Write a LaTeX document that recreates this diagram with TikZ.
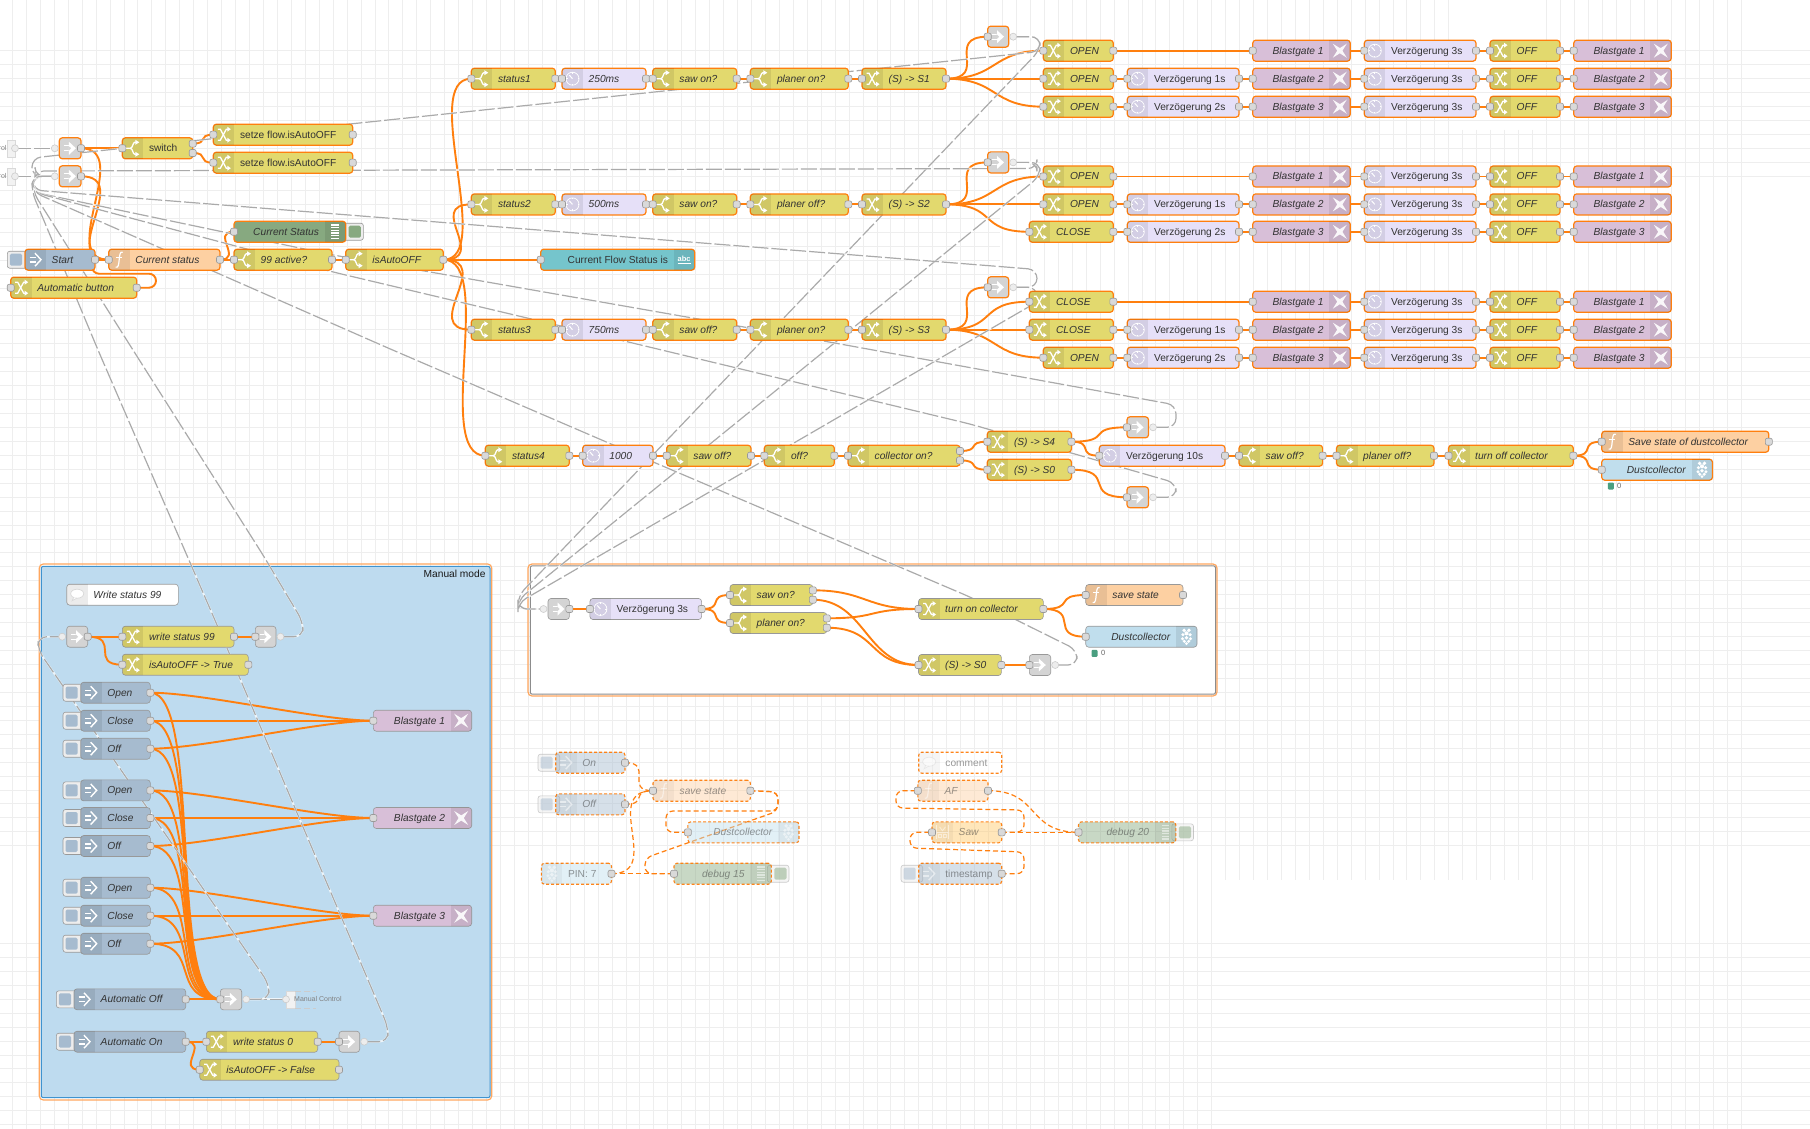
\documentclass[tikz,border=0pt]{standalone}
\usepackage{fontspec}
\setmainfont{Liberation Sans}
\usetikzlibrary{calc}
\pgfdeclarelayer{bg}
\pgfdeclarelayer{wires}
\pgfsetlayers{bg,wires,main}

\definecolor{wo}{HTML}{FF7F0E}
\definecolor{lnkgrey}{HTML}{AAAAAA}
\definecolor{gridc}{HTML}{EEEEEE}
\definecolor{txt}{HTML}{333333}
\definecolor{fch}{HTML}{E2D96E}
\definecolor{fdl}{HTML}{E6E0F8}
\definecolor{fin}{HTML}{A6BBCF}
\definecolor{ffn}{HTML}{FDD0A2}
\definecolor{fdb}{HTML}{87A980}
\definecolor{fmq}{HTML}{D8BFD8}
\definecolor{fui}{HTML}{75C5CC}
\definecolor{frp}{HTML}{C0DEED}
\definecolor{ftp}{HTML}{FFC868}
\definecolor{flk}{HTML}{D4D4D4}
\definecolor{grpblue}{HTML}{3F93CF}
\definecolor{grpfill}{HTML}{BEDBEF}
\definecolor{grpsel}{HTML}{FFA75E}
\definecolor{dotg}{HTML}{4A9E80}

\tikzset{
  nrbox/.style={rounded corners=3pt,minimum height=21pt,inner sep=0pt,text height=9pt,text depth=2.1pt,
    text=txt,font=\fontsize{10.2}{12}\selectfont},
  stsel/.style={draw=wo,line width=1.2pt},
  stpln/.style={draw=black!40,line width=.6pt},
  stdis/.style={draw=wo,line width=1.1pt,dash pattern=on 3pt off 2pt,fill opacity=.45,draw opacity=.95,text opacity=.5},
  prt/.style={draw=black!40,fill=black!15,line width=.6pt,rounded corners=2pt,minimum size=7pt,inner sep=0pt},
  vprt/.style={draw=black!20,fill=black!7,line width=.6pt,circle,minimum size=7pt,inner sep=0pt},
  gridln/.style={draw=gridc,line width=.9pt},
  wire/.style={draw=wo,line width=1.9pt,
    to path={let \p1=(\tikztostart),\p2=(\tikztotarget),
      \n1={0.75*min(veclen(\x2-\x1,\y2-\y1),70)} in
      .. controls (\x1+\n1,\y1) and (\x2-\n1,\y2) .. (\tikztotarget)}},
  dwire/.style={wire,line width=1.2pt,dash pattern=on 5pt off 3pt},
  hookd/.style={draw=wo,line width=1.2pt,dash pattern=on 5pt off 3pt,rounded corners=7pt},
  hookw/.style={draw=wo,line width=1.9pt,rounded corners=7pt},
  linkw/.style={draw=lnkgrey,line width=1.2pt,dash pattern=on 16pt off 3pt,rounded corners=9pt,
    preaction={draw=white,solid,line width=1.9pt,draw opacity=.75}},
  stubtxt/.style={font=\fontsize{7}{8}\selectfont,text=black!50,inner sep=0pt},
  cnt/.style={font=\fontsize{7.5}{8}\selectfont,text=black!60,inner sep=0pt,anchor=west},
  icn/.style={draw=white,line width=1.3pt},
}

% Node kinds: fill colour, icon side, icon, trigger button
\newcommand{\setkind}[5]{\expandafter\def\csname k#1\endcsname{\def\nfill{#2}\def\nside{#3}\def\nicon{#4}\def\nbtn{#5}}}
\newcommand{\icch}{%
  \draw[icn] (-6,-5.5) -- (-3.5,-5.5) -- (2.5,5.5) -- (4,5.5);
  \draw[icn] (-6,5.5) -- (-3.5,5.5) -- (2.5,-5.5) -- (4,-5.5);
  \fill[white] (3.5,-8) -- (7,-5.5) -- (3.5,-3) -- cycle (3.5,8) -- (7,5.5) -- (3.5,3) -- cycle;}
\newcommand{\icsw}{%
  \draw[icn] (-7,0) -- (-2.5,0) .. controls (0,0) and (0,-6) .. (2,-6) -- (3,-6);
  \draw[icn] (-2.5,0) .. controls (0,0) and (0,6) .. (2,6) -- (3,6);
  \fill[white] (2.5,-8.5) -- (6.5,-6) -- (2.5,-3.5) -- cycle (2.5,8.5) -- (6.5,6) -- (2.5,3.5) -- cycle;}
\newcommand{\icdl}{%
  \draw[draw=white,line width=.7pt] (0,0) circle (6.5);
  \draw[draw=white,line width=1pt] (0,0) -- (-3.2,-3.6);
  \draw[draw=white,line width=1pt] (0,-6.5) -- (0,-5) (6.5,0) -- (5,0) (0,6.5) -- (0,5) (-6.5,0) -- (-5,0);}
\newcommand{\icin}{%
  \draw[icn,line width=1.5pt] (-6,-2.2) -- (0,-2.2) (-6,2.2) -- (0,2.2);
  \draw[icn,line width=1.4pt] (-.5,-6.5) -- (5.5,0) -- (-.5,6.5);}
\newcommand{\icfn}{%
  \draw[draw=white,line width=1.2pt] (3.5,-7.5) .. controls (.5,-8.5) and (.5,-4) .. (0,0) .. controls (-.5,4) and (-.5,8.5) .. (-3.5,7.5);
  \draw[draw=white,line width=1pt] (-3,-2.5) -- (3,-2.5);}
\newcommand{\icdb}{%
  \foreach \v in {-6.6,-4,-1.3,1.3,4,6.6}{\draw[draw=white,line width=1.3pt] (-3.8,\v) -- (3.8,\v);}}
\newcommand{\icmq}{%
  \fill[white,opacity=.9] (-7,-7) -- (0,-2.6) -- (7,-7) -- (2.6,0) -- (7,7) -- (0,2.6) -- (-7,7) -- (-2.6,0) -- cycle;}
\newcommand{\icrp}{%
  \fill[white] (-2.4,-6.4) circle (1.9) (2.4,-6.4) circle (1.9) (0,-3.4) circle (2) (-3.6,-2) circle (1.7) (3.6,-2) circle (1.7)
    (0,1) circle (1.9) (-4,2) circle (1.6) (4,2) circle (1.6) (-2.2,4.6) circle (1.7) (2.2,4.6) circle (1.7) (0,7) circle (1.5);}
\newcommand{\iccm}{%
  \filldraw[fill=white,draw=black!15,line width=.7pt] (0,-1) ellipse (6.5 and 4.5);
  \filldraw[fill=white,draw=black!15,line width=.7pt] (-3.5,2.6) -- (-5,6) -- (-.5,3.4);}
\newcommand{\icui}{%
  \node[font=\bfseries\fontsize{7.5}{8}\selectfont,text=white,inner sep=0pt] (\nname-ic) at (0,-.6) {abc};
  \draw[draw=white,line width=.9pt] (-6.6,4.2) -- (6.6,4.2);}
\newcommand{\ictp}{%
  \draw[draw=white,line width=.8pt] (-6,-7) -- (-6,7) (6,-7) -- (6,7) (-6,.5) -- (6,.5);
  \draw[draw=white,line width=.8pt] (-3,-5.5) -- (0,-1.5) -- (3,-5.5);
  \draw[draw=white,line width=.7pt] (-4,2.5) rectangle (-.7,5.5) (.7,2.5) rectangle (4,5.5);}
\newcommand{\iclk}{%
  \draw[draw=white,line width=1pt] (-6,-2.6) -- (-1,-2.6) (-6,2.6) -- (-1,2.6);
  \fill[white] (-1.2,-6.5) -- (5.8,0) -- (-1.2,6.5) -- cycle;
  \fill[flk] (-1.6,-2.4) -- (1,0) -- (-1.6,2.4) -- cycle;}
\setkind{ch}{fch}{L}{\icch}{N}
\setkind{sw}{fch}{L}{\icsw}{N}
\setkind{dl}{fdl}{L}{\icdl}{N}
\setkind{in}{fin}{L}{\icin}{L}
\setkind{fn}{ffn}{L}{\icfn}{N}
\setkind{db}{fdb}{R}{\icdb}{R}
\setkind{mq}{fmq}{R}{\icmq}{N}
\setkind{rp}{frp}{R}{\icrp}{N}
\setkind{rl}{frp}{L}{\icrp}{N}
\setkind{cm}{white}{L}{\iccm}{N}
\setkind{ui}{fui}{R}{\icui}{N}
\setkind{tp}{ftp}{L}{\ictp}{N}
\setkind{lk}{flk}{C}{\iclk}{N}

\expandafter\def\csname opsel\endcsname{1}
\expandafter\def\csname oppln\endcsname{1}
\expandafter\def\csname opdis\endcsname{.5}

% Port sets; arguments are node name, left edge, right edge, centre line
\newcommand{\portsn}[4]{}
\newcommand{\portsi}[4]{\node[prt] (#1-in) at (#2,#4) {};}
\newcommand{\portso}[4]{\node[prt] (#1-out) at (#3,#4) {};}
\newcommand{\portsio}[4]{\portsi{#1}{#2}{#3}{#4}\portso{#1}{#2}{#3}{#4}}
\newcommand{\portsioo}[4]{\portsi{#1}{#2}{#3}{#4}%
  \node[prt] (#1-oa) at (#3,#4-4.7) {};\node[prt] (#1-ob) at (#3,#4+4.7) {};}
\newcommand{\portslin}[4]{\node[vprt] (#1-in) at (#2-4.5,#4) {};\portso{#1}{#2}{#3}{#4}}
\newcommand{\portslout}[4]{\portsi{#1}{#2}{#3}{#4}\node[vprt] (#1-out) at (#3+4.5,#4) {};}

% A flow node: kind, state, name, left, right, centre line, ports, label
\newcommand{\nd}[8]{%
  \csname k#1\endcsname
  \def\nname{#3}\edef\nop{\csname op#2\endcsname}%
  \pgfmathsetmacro\nw{#5-#4}\pgfmathsetmacro\nc{(#4+#5)/2}%
  \def\bl{L}\ifx\nbtn\bl
    \filldraw[rounded corners=2.5pt,draw=black!40,fill=black!7,line width=.6pt,opacity=\nop] (#4-17.7,#6-8.5) rectangle (#4+4,#6+8.5);
    \fill[\nfill,rounded corners=1.5pt,opacity=\nop] (#4-15.2,#6-6) rectangle (#4-3,#6+6);
  \fi
  \def\br{R}\ifx\nbtn\br
    \filldraw[rounded corners=2.5pt,draw=black!40,fill=black!7,line width=.6pt,opacity=\nop] (#5-4,#6-8.5) rectangle (#5+17.7,#6+8.5);
    \fill[\nfill,rounded corners=1.5pt,opacity=\nop] (#5+3,#6-6) rectangle (#5+15.2,#6+6);
  \fi
  \def\sl{L}\def\sr{R}%
  \node[nrbox,st#2,fill=\nfill,minimum width=\nw pt] (#3) at (\nc,#6)
    {\ifx\nside\sl\makebox[\nw pt][l]{\hspace*{26.7pt}\itshape #8}\else
     \ifx\nside\sr\makebox[\nw pt][r]{\itshape #8\hspace*{26.7pt}}\fi\fi};
  \begin{scope}
    \clip[rounded corners=3pt] (#4,#6-10.5) rectangle (#5,#6+10.5);
    \ifx\nside\sl\fill[black,opacity=.08*\nop] (#4,#6-11) rectangle (#4+21,#6+11);\fi
    \ifx\nside\sr\fill[black,opacity=.08*\nop] (#5-21,#6-11) rectangle (#5,#6+11);\fi
  \end{scope}
  \begin{scope}[opacity=\nop]
    \ifx\nside\sl\pgfmathsetmacro\ic{#4+10.5}\else\ifx\nside\sr\pgfmathsetmacro\ic{#5-10.5}\else\pgfmathsetmacro\ic{\nc}\fi\fi
    \begin{scope}[shift={(\ic,#6)}]\nicon\end{scope}
  \end{scope}
  \csname ports#7\endcsname{#3}{#4}{#5}{#6}%
}

% Condition row: name prefix, centre line, status label, delay label, two tests
\newcommand{\staterow}[6]{%
  \nd{sw}{sel}{#1s}{471.3}{555.3}{#2}{io}{#3}
  \nd{dl}{sel}{#1t}{562}{646}{#2}{io}{#4}
  \nd{sw}{sel}{#1u}{652.7}{736.7}{#2}{io}{#5}
  \nd{sw}{sel}{#1v}{750.3}{848.3}{#2}{io}{#6}
}
% Blastgate, delay, OFF, Blastgate along one row
\newcommand{\gatechain}[3]{%
  \nd{mq}{sel}{#1b}{1252.7}{1350.3}{#3}{i}{Blastgate #2}
  \nd{dl}{sel}{#1d}{1364.3}{1476}{#3}{io}{\upshape Verzögerung 3s}
  \nd{ch}{sel}{#1f}{1490}{1560}{#3}{io}{OFF}
  \nd{mq}{sel}{#1g}{1573.7}{1671.3}{#3}{i}{Blastgate #2}
}
% Manual Open / Close / Off triple feeding one gate
\newcommand{\manualset}[4]{%
  \nd{in}{pln}{#1o}{80.7}{150.3}{#2}{o}{Open}
  \nd{in}{pln}{#1c}{80.7}{150.3}{#3}{o}{Close}
  \nd{in}{pln}{#1f}{80.7}{150.3}{#4}{o}{Off}
}
\newcommand{\gp}[1]{\pgfmathsetmacro\yy{50.9+13.945*#1}\draw[gridln] (0,\yy) -- (1810,\yy);}

\begin{document}
\begin{tikzpicture}[x=1pt,y=-1pt]
\useasboundingbox (0,0) rectangle (1810,1129);
\begin{pgfonlayer}{bg}
  \fill[white] (0,0) rectangle (1810,1129);
  % Editor grid
  \foreach \i in {0,...,9,21,22,...,57,64,65,...,77}{\gp{\i}}
  \foreach \i in {10,...,20}{\pgfmathsetmacro\yy{50.9+13.945*\i}\draw[gridln] (0,\yy) -- (1000,\yy);}
  \foreach \k in {0,...,86,110,111,...,124}{\pgfmathsetmacro\xx{12.4+13.945*\k}\draw[gridln] (\xx,0) -- (\xx,1129);}
  \foreach \k in {87,...,103}{\pgfmathsetmacro\xx{12.4+13.945*\k}\draw[gridln] (\xx,0) -- (\xx,880);}
  \foreach \k in {104,...,109}{\pgfmathsetmacro\xx{12.4+13.945*\k}\draw[gridln] (\xx,130) -- (\xx,880);}
  % Groups
  \draw[draw=grpsel,line width=1.2pt,rounded corners=4pt] (39.3,564) rectangle (491.7,1100);
  \filldraw[draw=grpblue,fill=grpfill,line width=1pt,rounded corners=2pt] (41.3,566.3) rectangle (490,1097.7);
  \draw[draw=grpsel,line width=1.2pt,rounded corners=4pt] (528,564) rectangle (1217,696);
  \filldraw[draw=black!45,fill=white,line width=1pt,rounded corners=2pt] (530.3,565.8) rectangle (1215.5,694.2);
\end{pgfonlayer}

\node[font=\fontsize{10.2}{12}\selectfont,text=black!90,anchor=east,inner sep=0pt] (grouptitle) at (485.7,573.7) {Manual mode};

% Entry and dispatch
\filldraw[draw=black!15,fill=black!5,line width=.6pt] (7,140) rectangle (15,157);
\filldraw[draw=black!15,fill=black!5,line width=.6pt] (7,168) rectangle (15,185);
\node[stubtxt,anchor=east] (stubla) at (6.7,148.3) {rol};
\node[stubtxt,anchor=east] (stublb) at (6.7,176.3) {rol};
\node[vprt] (stubA-out) at (15,148.3) {};
\node[vprt] (stubB-out) at (15,176.3) {};
\nd{lk}{sel}{la}{59.3}{81}{148.3}{lin}{}
\nd{lk}{sel}{lb}{59.3}{81}{176.3}{lin}{}
\nd{sw}{sel}{swi}{122.3}{192.7}{148.3}{ioo}{\upshape switch}
\nd{ch}{sel}{fa}{213.3}{352.7}{134.7}{io}{\upshape setze flow.isAutoOFF}
\nd{ch}{sel}{fb}{213.3}{352.7}{162.7}{io}{\upshape setze flow.isAutoOFF}
\nd{db}{sel}{curst}{234}{345.7}{231.7}{i}{Current Status}
\nd{in}{sel}{start}{25}{95}{259.7}{o}{Start}
\nd{fn}{sel}{cufn}{108.7}{220}{259.7}{io}{Current status}
\nd{sw}{sel}{act}{234}{332}{259.7}{io}{99 active?}
\nd{sw}{sel}{iao}{345.7}{443.3}{259.7}{io}{isAutoOFF}
\nd{ch}{sel}{autob}{10.7}{136.7}{287.7}{io}{Automatic button}
\nd{ui}{sel}{flowst}{540.7}{694.7}{259.7}{i}{\upshape Current Flow Status is}

% State chains
\staterow{a}{78.7}{status1}{250ms}{saw on?}{planer on?}
\nd{ch}{sel}{aw}{862}{946}{78.7}{io}{(S) -> S1}
\staterow{b}{204.4}{status2}{500ms}{saw on?}{planer off?}
\nd{ch}{sel}{bw}{862}{946}{204.4}{io}{(S) -> S2}
\staterow{c}{329.7}{status3}{750ms}{saw off?}{planer on?}
\nd{ch}{sel}{cw}{862}{946}{329.7}{io}{(S) -> S3}

\nd{sw}{sel}{ds}{485.3}{569.3}{455.7}{io}{status4}
\nd{dl}{sel}{dt}{582.7}{653}{455.7}{io}{1000}
\nd{sw}{sel}{du}{666.7}{751}{455.7}{io}{saw off?}
\nd{sw}{sel}{dv}{764.3}{834.3}{455.7}{io}{off?}
\nd{sw}{sel}{dw}{848}{960}{455.7}{ioo}{collector on?}

% State 1
\nd{lk}{sel}{al}{987.7}{1008.7}{36.7}{lout}{}
\nd{ch}{sel}{a1}{1043.3}{1113.3}{50.7}{io}{OPEN}
\nd{ch}{sel}{a2}{1043.3}{1113.3}{78.7}{io}{OPEN}
\nd{ch}{sel}{a3}{1043.3}{1113.3}{106.7}{io}{OPEN}
\nd{dl}{sel}{a2y}{1127.3}{1239}{78.7}{io}{\upshape Verzögerung 1s}
\nd{dl}{sel}{a3y}{1127.3}{1239}{106.7}{io}{\upshape Verzögerung 2s}
\gatechain{a1}{1}{50.7}
\gatechain{a2}{2}{78.7}
\gatechain{a3}{3}{106.7}

% State 2
\nd{lk}{sel}{bl}{987.7}{1008.7}{162.4}{lout}{}
\nd{ch}{sel}{b1}{1043.3}{1113.3}{176.5}{io}{OPEN}
\nd{ch}{sel}{b2}{1043.3}{1113.3}{204.4}{io}{OPEN}
\nd{ch}{sel}{b3}{1029.3}{1113.3}{231.8}{io}{CLOSE}
\nd{dl}{sel}{b2y}{1127.3}{1239}{204.4}{io}{\upshape Verzögerung 1s}
\nd{dl}{sel}{b3y}{1127.3}{1239}{231.8}{io}{\upshape Verzögerung 2s}
\gatechain{b1}{1}{176.5}
\gatechain{b2}{2}{204.4}
\gatechain{b3}{3}{231.8}

% State 3
\nd{lk}{sel}{cl}{987.7}{1008.7}{287.3}{lout}{}
\nd{ch}{sel}{c1}{1029.3}{1113.3}{301.7}{io}{CLOSE}
\nd{ch}{sel}{c2}{1029.3}{1113.3}{329.7}{io}{CLOSE}
\nd{ch}{sel}{c3}{1043.3}{1113.3}{357.7}{io}{OPEN}
\nd{dl}{sel}{c2y}{1127.3}{1239}{329.7}{io}{\upshape Verzögerung 1s}
\nd{dl}{sel}{c3y}{1127.3}{1239}{357.7}{io}{\upshape Verzögerung 2s}
\gatechain{c1}{1}{301.7}
\gatechain{c2}{2}{329.7}
\gatechain{c3}{3}{357.7}

% State 4 and collector shutdown
\nd{ch}{sel}{s4}{987.3}{1071.4}{441.7}{io}{(S) -> S4}
\nd{ch}{sel}{s0}{987.3}{1071.4}{469.7}{io}{(S) -> S0}
\nd{lk}{sel}{l4}{1127}{1148.5}{427.3}{lout}{}
\nd{lk}{sel}{l0}{1127}{1148.5}{497.3}{lout}{}
\nd{dl}{sel}{v10}{1099.3}{1225}{455.7}{io}{\upshape Verzögerung 10s}
\nd{sw}{sel}{oa}{1239}{1322.6}{455.7}{io}{saw off?}
\nd{sw}{sel}{ob}{1336.5}{1434}{455.7}{io}{planer off?}
\nd{ch}{sel}{oc}{1448.5}{1573.3}{455.7}{io}{turn off collector}
\nd{fn}{sel}{od}{1601.7}{1768.8}{441.7}{io}{Save state of dustcollector}
\nd{rp}{sel}{oe}{1601.7}{1712.5}{469.7}{i}{Dustcollector}
\fill[dotg,rounded corners=1pt] (1607.8,482.5) rectangle (1613.8,489.5);
\node[cnt] (oecount) at (1617,486) {0};

% Collector start-up group
\nd{lk}{pln}{ml}{548}{569.4}{609}{lin}{}
\nd{dl}{pln}{md}{589.9}{701.6}{609}{io}{\upshape Verzögerung 3s}
\nd{sw}{pln}{ms}{730}{812.8}{595}{ioo}{saw on?}
\nd{sw}{pln}{mp}{730}{826.8}{623}{ioo}{planer on?}
\nd{ch}{pln}{mt}{918.5}{1043.3}{609}{io}{turn on collector}
\nd{fn}{pln}{mf}{1085.7}{1183}{595}{io}{save state}
\nd{rp}{pln}{mr}{1085.7}{1197}{636.7}{i}{Dustcollector}
\fill[dotg,rounded corners=1pt] (1091.5,649.8) rectangle (1097.5,656.8);
\node[cnt] (mrcount) at (1101,653.3) {0};
\nd{ch}{pln}{mz}{918.5}{1001.4}{665}{io}{(S) -> S0}
\nd{lk}{pln}{mo}{1029.3}{1050.7}{665}{lout}{}

% Manual mode group
\nd{cm}{pln}{wcm}{66.7}{178.3}{594.7}{n}{Write status 99}
\nd{lk}{pln}{wi}{66.7}{87.7}{636.7}{lin}{}
\nd{ch}{pln}{wa}{122.3}{234}{636.7}{io}{write status 99}
\nd{lk}{pln}{wo}{255.3}{276}{636.7}{lout}{}
\nd{ch}{pln}{wb}{122.3}{248.3}{664.7}{io}{isAutoOFF -> True}
\manualset{p}{692.7}{720.7}{748.7}
\manualset{q}{790.4}{818}{846}
\manualset{r}{887.7}{915.7}{943.7}
\nd{mq}{pln}{pg}{373.3}{471.7}{720.7}{i}{Blastgate 1}
\nd{mq}{pln}{qg}{373.3}{471.7}{818}{i}{Blastgate 2}
\nd{mq}{pln}{rg}{373.3}{471.7}{915.7}{i}{Blastgate 3}
\nd{in}{pln}{ao}{74}{185.7}{999.3}{o}{Automatic Off}
\nd{lk}{pln}{al2}{220.3}{241.7}{999.3}{lout}{}
\filldraw[draw=black!15,fill=black!5,line width=.6pt] (286,991) rectangle (295,1008);
\draw[draw=black!20,line width=.6pt,dash pattern=on 6pt off 3pt] (295,991) -- (316,991) (295,1008) -- (316,1008);
\node[stubtxt,anchor=west] (stubmc) at (294,999.3) {Manual Control};
\node[vprt] (stubC-in) at (286,999.3) {};
\nd{in}{pln}{an}{74}{185.7}{1041.7}{o}{Automatic On}
\nd{ch}{pln}{ax}{206.3}{317.7}{1041.7}{io}{write status 0}
\nd{lk}{pln}{ay}{339}{359.7}{1041.7}{lout}{}
\nd{ch}{pln}{az}{199.7}{339}{1069.7}{io}{isAutoOFF -> False}

% Disabled nodes
\nd{in}{dis}{xo}{555.7}{625}{762.7}{o}{On}
\nd{in}{dis}{xf}{555.7}{625}{804.3}{o}{Off}
\nd{fn}{dis}{xs}{653}{750.4}{790.7}{io}{save state}
\nd{rp}{dis}{xd}{687.9}{799}{832.3}{i}{Dustcollector}
\nd{rl}{dis}{xp}{541.4}{611.5}{873.7}{o}{\upshape PIN: 7}
\nd{db}{dis}{xg}{674}{771.3}{873.7}{i}{debug 15}
\nd{cm}{dis}{ym}{918.7}{1001.7}{762.7}{n}{\upshape comment}
\nd{fn}{dis}{ya}{917.8}{988}{790.7}{io}{AF}
\nd{tp}{dis}{ys}{932}{1001.7}{832.3}{io}{Saw}
\nd{db}{dis}{yg}{1078.5}{1175.8}{832.3}{i}{debug 20}
\nd{in}{dis}{yt}{918.7}{1001.7}{873.7}{o}{\upshape timestamp}

\begin{pgfonlayer}{wires}
  % Ordinary wires
  \foreach \a/\b in {la-out/swi-in,la-out/cufn-in,lb-out/cufn-in,swi-oa/fa-in,swi-ob/fb-in,
    start-out/cufn-in,cufn-out/act-in,cufn-out/curst-in,act-out/iao-in,
    iao-out/as-in,iao-out/bs-in,iao-out/cs-in,iao-out/ds-in,iao-out/flowst-in,
    as-out/at-in,at-out/au-in,au-out/av-in,av-out/aw-in,
    bs-out/bt-in,bt-out/bu-in,bu-out/bv-in,bv-out/bw-in,
    cs-out/ct-in,ct-out/cu-in,cu-out/cv-in,cv-out/cw-in,
    ds-out/dt-in,dt-out/du-in,du-out/dv-in,dv-out/dw-in,
    aw-out/al-in,aw-out/a1-in,aw-out/a2-in,aw-out/a3-in,
    bw-out/bl-in,bw-out/b1-in,bw-out/b2-in,bw-out/b3-in,
    cw-out/cl-in,cw-out/c1-in,cw-out/c2-in,cw-out/c3-in,
    a1-out/a1b-in,a1-out/a1d-in,a2-out/a2y-in,a2y-out/a2b-in,a2y-out/a2d-in,a3-out/a3y-in,a3y-out/a3b-in,a3y-out/a3d-in,
    b1-out/b1b-in,b1-out/b1d-in,b2-out/b2y-in,b2y-out/b2b-in,b2y-out/b2d-in,b3-out/b3y-in,b3y-out/b3b-in,b3y-out/b3d-in,
    c1-out/c1b-in,c1-out/c1d-in,c2-out/c2y-in,c2y-out/c2b-in,c2y-out/c2d-in,c3-out/c3y-in,c3y-out/c3b-in,c3y-out/c3d-in,
    a1d-out/a1f-in,a1f-out/a1g-in,a2d-out/a2f-in,a2f-out/a2g-in,a3d-out/a3f-in,a3f-out/a3g-in,
    b1d-out/b1f-in,b1f-out/b1g-in,b2d-out/b2f-in,b2f-out/b2g-in,b3d-out/b3f-in,b3f-out/b3g-in,
    c1d-out/c1f-in,c1f-out/c1g-in,c2d-out/c2f-in,c2f-out/c2g-in,c3d-out/c3f-in,c3f-out/c3g-in,
    dw-oa/s4-in,dw-ob/s0-in,s4-out/l4-in,s4-out/v10-in,s0-out/l0-in,
    v10-out/oa-in,oa-out/ob-in,ob-out/oc-in,oc-out/od-in,oc-out/oe-in,
    ml-out/md-in,md-out/ms-in,md-out/mp-in,ms-oa/mt-in,mp-oa/mt-in,ms-ob/mz-in,mp-ob/mz-in,
    mt-out/mf-in,mt-out/mr-in,mz-out/mo-in,
    wi-out/wa-in,wi-out/wb-in,wa-out/wo-in,
    po-out/pg-in,pc-out/pg-in,pf-out/pg-in,qo-out/qg-in,qc-out/qg-in,qf-out/qg-in,ro-out/rg-in,rc-out/rg-in,rf-out/rg-in,
    po-out/al2-in,pc-out/al2-in,pf-out/al2-in,qo-out/al2-in,qc-out/al2-in,qf-out/al2-in,ro-out/al2-in,rc-out/al2-in,rf-out/al2-in,
    ao-out/al2-in,an-out/ax-in,an-out/az-in,ax-out/ay-in}
    {\draw[wire] (\a.center) to (\b.center);}
  \draw[hookw] (autob-out.center) -- (156,287.7) -- (156,273.7) -- (92,273.7) -- (92,259.7) -- (cufn-in.center);
  % Disabled wires
  \foreach \a/\b in {xo-out/xs-in,xf-out/xs-in,xp-out/xs-in,xp-out/xg-in,ya-out/yg-in,ys-out/yg-in}
    {\draw[dwire] (\a.center) to (\b.center);}
  \draw[hookd] (xs-out.center) -- (778,792) -- (778,811) -- (666,811) -- (666,832.3) -- (xd-in.center);
  \draw[hookd] (xs-out.center) -- (778,792) -- (778,811) -- (645,858) -- (645,873.7) -- (xg-in.center);
  \draw[hookd] (ys-out.center) -- (1024,832) -- (1024,810) -- (896,808) -- (896,790.7) -- (ya-in.center);
  \draw[hookd] (yt-out.center) -- (1024,873.7) -- (1024,852) -- (910,848) -- (910,832.3) -- (ys-in.center);
  % Link wires
  \draw[linkw] (stubA-out.center) -- (la-in.center);
  \draw[linkw] (stubB-out.center) -- (lb-in.center);
  \draw[linkw] (stubC-in.center) -- (al2-out.center);
  \draw[linkw] (al-out.center) -- (1040,36.7) -- (1040,51.5) -- (350,124) -- (32,158) -- (32,176.3) -- (lb-in.center);
  \draw[linkw] (al-out.center) -- (1040,36.7) -- (1040,50) -- (518,596) -- (518,609) -- (ml-in.center);
  \draw[linkw] (bl-out.center) -- (1037,162.4) -- (1037,168.5) -- (35,171) -- (35,176.3) -- (lb-in.center);
  \draw[linkw] (bl-out.center) -- (1040,162.4) -- (1040,176) -- (518,600) -- (518,609) -- (ml-in.center);
  \draw[linkw] (cl-out.center) -- (1037,287.3) -- (1037,269.5) -- (33,190) -- (33,176.3) -- (lb-in.center);
  \draw[linkw] (cl-out.center) -- (1037,287.3) -- (1037,302) -- (518,603) -- (518,609) -- (ml-in.center);
  \draw[linkw] (l4-out.center) -- (1176,427.3) -- (1176,405) -- (818,340) -- (333,255) -- (33,192) -- (33,176.3) -- (lb-in.center);
  \draw[linkw] (l0-out.center) -- (1176,497.3) -- (1176,483) -- (970,424) -- (620,340) -- (333,272) -- (33,192) -- (33,176.3) -- (lb-in.center);
  \draw[linkw] (mo-out.center) -- (1077,665) -- (1077,650) -- (970,597) -- (611,444) -- (388,348) -- (33,192) -- (33,176.3) -- (lb-in.center);
  \draw[linkw] (wo-out.center) -- (303,636.7) -- (303,622) -- (263,555) -- (133,350) -- (33,192) -- (33,176.3) -- (lb-in.center);
  \draw[linkw] (ay-out.center) -- (388,1041.7) -- (388,1027) -- (227,648) -- (98,350) -- (32,192) -- (32,176.3) -- (lb-in.center);
  \draw[linkw] (al2-out.center) -- (269,999.3) -- (269,984) -- (38,650) -- (38,636.7) -- (wi-in.center);
\end{pgfonlayer}
\end{tikzpicture}
\end{document}
